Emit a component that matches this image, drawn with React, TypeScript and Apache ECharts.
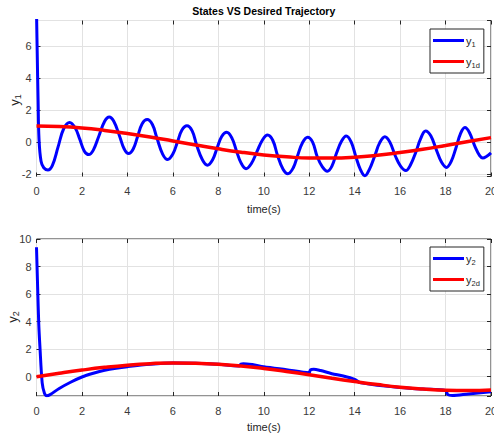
import React, { useEffect, useRef } from "react";
import * as echarts from "echarts";

const FONT = '"Liberation Sans", Arial, Helvetica, sans-serif';

// Top panel: y1 (actual) and y1d (desired)
const T1 = [0, 0.03, 0.07, 0.11, 0.2, 0.32, 0.5, 0.7, 0.95, 1.2, 1.46, 1.7, 1.9, 2.1, 2.3, 2.5, 2.75, 3.0, 3.2, 3.4, 3.65, 3.85, 4.05, 4.25, 4.45, 4.65, 4.87, 5.1, 5.3, 5.55, 5.77, 6.0, 6.2, 6.4, 6.62, 6.85, 7.05, 7.3, 7.52, 7.75, 7.95, 8.15, 8.37, 8.6, 8.8, 9.0, 9.22, 9.45, 9.7, 9.95, 10.17, 10.4, 10.6, 10.85, 11.06, 11.3, 11.5, 11.7, 11.93, 12.15, 12.35, 12.58, 12.8, 13.0, 13.2, 13.42, 13.63, 13.85, 14.05, 14.25, 14.45, 14.65, 14.9, 15.1, 15.33, 15.55, 15.8, 16.02, 16.25, 16.45, 16.7, 16.9, 17.12, 17.35, 17.6, 17.82, 18.04, 18.25, 18.45, 18.65, 18.85, 19.05, 19.3, 19.5, 19.64, 19.8, 20.0];
const Y1 = [8.2, 5.7, 2.6, 0.2, -1.2, -1.6, -1.74, -1.45, -0.3, 0.85, 1.23, 0.9, 0.2, -0.55, -0.78, -0.5, 0.4, 1.3, 1.57, 1.3, 0.4, -0.4, -0.72, -0.45, 0.35, 1.15, 1.41, 1.1, 0.25, -0.75, -1.09, -0.75, 0.0, 0.75, 1.02, 0.7, -0.2, -1.1, -1.44, -1.1, -0.35, 0.35, 0.61, 0.25, -0.55, -1.3, -1.66, -1.35, -0.6, 0.15, 0.44, 0.1, -0.8, -1.7, -1.98, -1.6, -0.8, -0.05, 0.3, 0.0, -0.9, -1.55, -1.82, -1.5, -0.7, 0.05, 0.38, 0.0, -0.9, -1.7, -2.1, -1.7, -0.8, -0.05, 0.34, 0.0, -0.9, -1.5, -1.78, -1.45, -0.6, 0.2, 0.7, 0.4, -0.5, -1.25, -1.58, -1.2, -0.4, 0.5, 0.91, 0.6, -0.3, -0.85, -1.0, -0.9, -0.67];
const TD = [0, 1, 2, 3, 4, 5, 6, 7, 8, 9, 10, 11, 12, 13, 14, 15, 16, 17, 18, 19, 20];
const Y1D = [1.0, 0.97, 0.88, 0.73, 0.54, 0.32, 0.07, -0.18, -0.42, -0.63, -0.8, -0.92, -0.99, -0.99, -0.94, -0.82, -0.65, -0.45, -0.21, 0.04, 0.28];

// Bottom panel: y2 (actual) and y2d (desired)
const T2 = [0, 0.05, 0.1, 0.15, 0.25, 0.35, 0.45, 0.6, 1.0, 1.5, 2.0, 2.5, 3.0, 3.5, 4.0, 5.0, 6.0, 7.0, 8.0, 8.9, 9.0, 9.1, 9.5, 10.0, 11.0, 12.0, 12.05, 12.2, 12.5, 13.0, 13.5, 14.0, 14.2, 14.5, 15.0, 16.0, 17.0, 18.0, 18.1, 18.3, 19.0, 20.0];
const Y2 = [9.4, 6.5, 3.8, 2.2, -0.45, -1.2, -1.38, -1.3, -0.85, -0.4, -0.02, 0.25, 0.47, 0.62, 0.73, 0.9, 0.99, 0.97, 0.9, 0.78, 0.92, 0.95, 0.88, 0.73, 0.51, 0.29, 0.5, 0.55, 0.45, 0.22, 0.05, -0.19, -0.4, -0.5, -0.62, -0.78, -0.9, -1.0, -1.3, -1.36, -1.25, -1.1];
const Y2D = [0.0, 0.25, 0.48, 0.68, 0.84, 0.95, 1.0, 0.98, 0.91, 0.78, 0.6, 0.38, 0.14, -0.11, -0.35, -0.57, -0.76, -0.89, -0.98, -1.0, -0.96];

const X_MIN = 0;
const X_MAX = 20;
const Y1_LIM = [-2.15, 7.6];
const Y2_LIM = [-1.4, 10];

const SERIES_NAMES = ["y1", "y1d", "y2", "y2d"];
const SUB: Record<string, string> = { y1: "1", y1d: "1d", y2: "2", y2d: "2d" };

const pairs = (xs: number[], ys: number[]) => xs.map((x, i) => [x, ys[i]]);

const FRAME = "#262626";
const GRIDC = "#e2e2e2";
const LABELC = "#3a3a3a";

const richText = {
  m: { fontSize: 11, fontFamily: FONT, color: FRAME, lineHeight: 14 },
  s: { fontSize: 7.5, fontFamily: FONT, color: FRAME, lineHeight: 14, padding: [7, 0, 0, 0] },
};

function mainX(gi: number) {
  return {
    gridIndex: gi,
    type: "value",
    min: X_MIN,
    max: X_MAX,
    interval: 2,
    axisLine: { show: false, onZero: false },
    axisTick: { show: true, inside: true, length: 4, lineStyle: { color: FRAME } },
    axisLabel: { color: LABELC, fontFamily: FONT, fontSize: 11, margin: 9 },
    splitLine: { show: true, lineStyle: { color: GRIDC, width: 1 } },
  };
}
function topX(gi: number) {
  return {
    gridIndex: gi,
    type: "value",
    position: "top",
    min: X_MIN,
    max: X_MAX,
    interval: 2,
    axisLine: { show: false, onZero: false },
    axisTick: { show: true, inside: true, length: 4, lineStyle: { color: FRAME } },
    axisLabel: { show: false },
    splitLine: { show: false },
  };
}
function mainY(gi: number, lim: number[]) {
  return {
    gridIndex: gi,
    type: "value",
    min: lim[0],
    max: lim[1],
    splitNumber: 5,
    axisLine: { show: false, onZero: false },
    axisTick: { show: true, inside: true, length: 4, lineStyle: { color: FRAME } },
    axisLabel: { color: LABELC, fontFamily: FONT, fontSize: 11, margin: 5, showMinLabel: false, showMaxLabel: lim[1] === 10 },
    splitLine: { show: true, lineStyle: { color: GRIDC, width: 1 } },
  };
}
function rightY(gi: number, lim: number[]) {
  return {
    gridIndex: gi,
    type: "value",
    position: "right",
    min: lim[0],
    max: lim[1],
    splitNumber: 5,
    axisLine: { show: false, onZero: false },
    axisTick: { show: true, inside: true, length: 4, lineStyle: { color: FRAME } },
    axisLabel: { show: false },
    splitLine: { show: false },
  };
}

function legend(top: number, names: string[]) {
  return {
    data: names,
    orient: "vertical",
    left: 430,
    top,
    icon: "rect",
    itemWidth: 31,
    itemHeight: 3,
    itemGap: 6,
    padding: [4, 4, 4, 3],
    backgroundColor: "#ffffff",
    borderColor: FRAME,
    borderWidth: 1,
    borderRadius: 0,
    selectedMode: false,
    formatter: (n: string) => `{m|y}{s|${SUB[n]}}`,
    textStyle: { rich: richText, padding: [0, 0, 0, -3] },
  };
}

function yName(x: number, y: number, sub: string) {
  return {
    type: "text",
    x,
    y,
    rotation: Math.PI / 2,
    style: {
      text: `{m|y}{s|${sub}}`,
      rich: {
        m: { fontSize: 13, fontFamily: FONT, fill: FRAME, lineHeight: 16 },
        s: { fontSize: 9, fontFamily: FONT, fill: FRAME, lineHeight: 16, padding: [7, 0, 0, 0] },
      },
      textAlign: "center",
      textVerticalAlign: "middle",
    },
  };
}

function plainText(x: number, y: number, text: string, size: number, weight = "normal") {
  return {
    type: "text",
    x,
    y,
    style: {
      text,
      fontSize: size,
      fontFamily: FONT,
      fontWeight: weight,
      fill: weight === "bold" ? "#000" : FRAME,
      textAlign: "center",
      textVerticalAlign: "middle",
    },
  };
}

export default function App() {
  const ref = useRef<HTMLDivElement>(null);
  useEffect(() => {
    const chart = echarts.init(ref.current!, null, { renderer: "svg" });
    const option: any = {
      animation: false,
      backgroundColor: "#ffffff",
      grid: [
        { left: 36.5, top: 20.5, width: 454.5, height: 156, show: true, borderColor: FRAME, borderWidth: 1, backgroundColor: "#fff", outerBoundsMode: "none", containLabel: false },
        { left: 36.5, top: 239, width: 454.5, height: 157, show: true, borderColor: FRAME, borderWidth: 1, backgroundColor: "#fff", outerBoundsMode: "none", containLabel: false },
      ],
      xAxis: [mainX(0), mainX(1), topX(0), topX(1)],
      yAxis: [mainY(0, Y1_LIM), mainY(1, Y2_LIM), rightY(0, Y1_LIM), rightY(1, Y2_LIM)],
      legend: [legend(29, [SERIES_NAMES[0], SERIES_NAMES[1]]), legend(247, [SERIES_NAMES[2], SERIES_NAMES[3]])],
      series: [
        { name: "y1", type: "line", xAxisIndex: 0, yAxisIndex: 0, data: pairs(T1, Y1), showSymbol: false, smooth: 0.4, color: "#0000ff", lineStyle: { width: 3, color: "#0000ff" }, z: 2 },
        { name: "y1d", type: "line", xAxisIndex: 0, yAxisIndex: 0, data: pairs(TD, Y1D), showSymbol: false, smooth: true, color: "#ff0000", lineStyle: { width: 3.5, color: "#ff0000" }, z: 3 },
        { name: "y2", type: "line", xAxisIndex: 1, yAxisIndex: 1, data: pairs(T2, Y2), showSymbol: false, smooth: 0.3, color: "#0000ff", lineStyle: { width: 3, color: "#0000ff" }, z: 2 },
        { name: "y2d", type: "line", xAxisIndex: 1, yAxisIndex: 1, data: pairs(TD, Y2D), showSymbol: false, smooth: true, color: "#ff0000", lineStyle: { width: 3.5, color: "#ff0000" }, z: 3 },
      ],
      graphic: [
        plainText(263.75, 10.5, "States VS Desired Trajectory", 10.5, "bold"),
        plainText(263.75, 208.5, "time(s)", 11),
        plainText(263.75, 427, "time(s)", 11),
        yName(14, 100, "1"),
        yName(12, 317, "2"),
      ],
    };
    chart.setOption(option);
    return () => chart.dispose();
  }, []);
  return <div ref={ref} style={{ position: "absolute", left: 0, top: 0, width: 494, height: 436 }} />;
}
